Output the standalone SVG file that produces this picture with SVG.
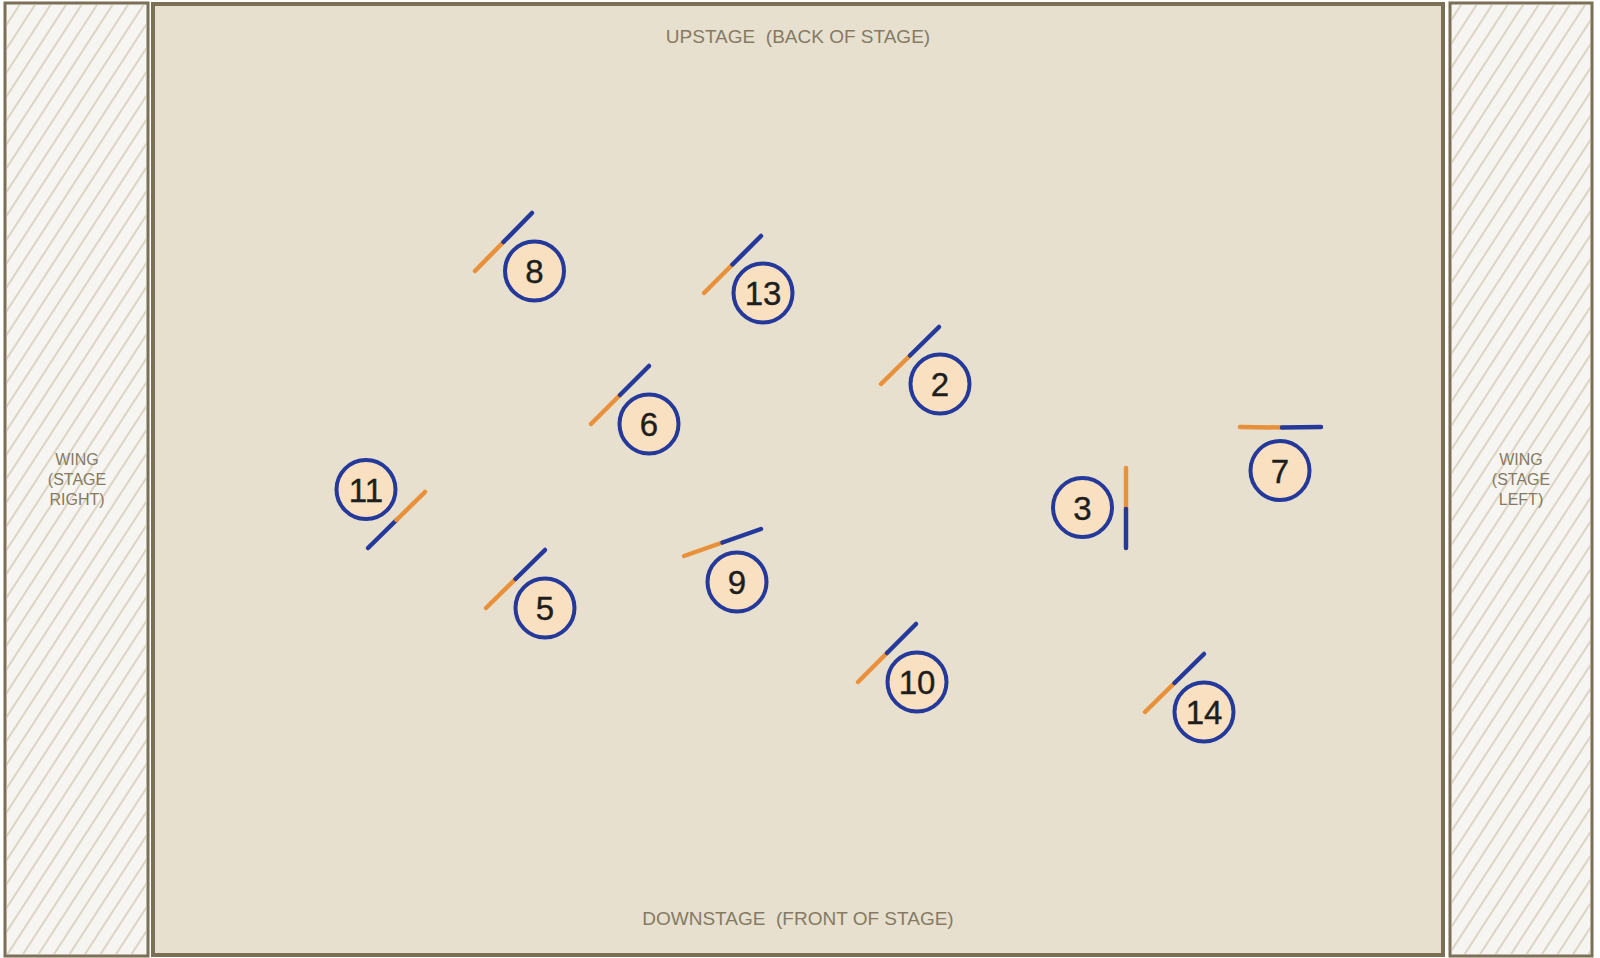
<svg xmlns="http://www.w3.org/2000/svg" width="1600" height="958" viewBox="0 0 1600 958">
<defs>
<pattern id="hatch" width="13" height="13" patternUnits="userSpaceOnUse" patternTransform="rotate(33)">
<line x1="6" y1="-2" x2="6" y2="15" stroke="#d9d0bf" stroke-width="1.8"/>
</pattern>
</defs>
<style>
.wing{fill:#f6f5f1;stroke:#7b6f56;stroke-width:3}
.stage{fill:#e7e0cf;stroke:#7b6f56;stroke-width:4}
.lbl{font-family:"Liberation Sans",Arial,sans-serif;fill:#857a63;text-anchor:middle}
.wl{font-size:16px}
.sl{font-size:19px}
.perf circle{fill:#f8e0c0;stroke:#24399a;stroke-width:4}
.perf text{font-family:"Liberation Sans",Arial,sans-serif;font-size:33px;fill:#1e1e1e;text-anchor:middle;stroke:#1e1e1e;stroke-width:0.4}
.o{stroke:#e8913a;stroke-width:4.5;stroke-linecap:round;fill:none}
.b{stroke:#24399a;stroke-width:4.5;stroke-linecap:round;fill:none}
</style>
<rect width="1600" height="958" fill="#ffffff"/>
<g id="wing-right">
<rect class="wing" x="5" y="3" width="143" height="953"/>
<rect x="7" y="5" width="139" height="949" fill="url(#hatch)"/>
<text class="lbl wl" x="77" y="465">WING</text>
<text class="lbl wl" x="77" y="485">(STAGE</text>
<text class="lbl wl" x="77" y="505">RIGHT)</text>
</g>
<g id="wing-left">
<rect class="wing" x="1450" y="3" width="142" height="953"/>
<rect x="1452" y="5" width="138" height="949" fill="url(#hatch)"/>
<text class="lbl wl" x="1521" y="465">WING</text>
<text class="lbl wl" x="1521" y="485">(STAGE</text>
<text class="lbl wl" x="1521" y="505">LEFT)</text>
</g>
<g id="stage">
<rect class="stage" x="153" y="4" width="1290" height="951"/>
<text class="lbl sl" x="798" y="43" xml:space="preserve">UPSTAGE  (BACK OF STAGE)</text>
<text class="lbl sl" x="798" y="925" xml:space="preserve">DOWNSTAGE  (FRONT OF STAGE)</text>
</g>
<g id="facings">
<path class="o" d="M475 271 L503.5 242"/><path class="b" d="M503.5 242 L532 213"/>
<path class="o" d="M704 293 L732.5 264.5"/><path class="b" d="M732.5 264.5 L761 236"/>
<path class="o" d="M881 384 L910 355.5"/><path class="b" d="M910 355.5 L939 327"/>
<path class="o" d="M591 424 L620 395"/><path class="b" d="M620 395 L649 366"/>
<path class="b" d="M368 548 L396.5 520"/><path class="o" d="M396.5 520 L425 492"/>
<path class="o" d="M486 608 L515.5 579"/><path class="b" d="M515.5 579 L545 550"/>
<path class="o" d="M684 556 L722.5 542.5"/><path class="b" d="M722.5 542.5 L761 529"/>
<path class="o" d="M858 682 L887 653"/><path class="b" d="M887 653 L916 624"/>
<path class="o" d="M1145 712 L1174.5 683"/><path class="b" d="M1174.5 683 L1204 654"/>
<path class="o" d="M1126 468 L1126 509"/><path class="b" d="M1126 509 L1126 548"/>
<path class="o" d="M1240 427 L1282 427.5"/><path class="b" d="M1282 427.5 L1321 427"/>
</g>
<g id="p8" class="perf"><circle cx="534.5" cy="271" r="29.5"/><text x="534.5" y="283">8</text></g>
<g id="p13" class="perf"><circle cx="763" cy="293" r="29.5"/><text x="763" y="305">13</text></g>
<g id="p2" class="perf"><circle cx="940" cy="384" r="29.5"/><text x="940" y="396">2</text></g>
<g id="p6" class="perf"><circle cx="649" cy="424" r="29.5"/><text x="649" y="436">6</text></g>
<g id="p11" class="perf"><circle cx="366" cy="489.5" r="29.5"/><text x="366" y="501.5">11</text></g>
<g id="p5" class="perf"><circle cx="545" cy="608" r="29.5"/><text x="545" y="620">5</text></g>
<g id="p9" class="perf"><circle cx="737" cy="582" r="29.5"/><text x="737" y="594">9</text></g>
<g id="p10" class="perf"><circle cx="917" cy="682" r="29.5"/><text x="917" y="694">10</text></g>
<g id="p14" class="perf"><circle cx="1204" cy="712" r="29.5"/><text x="1204" y="724">14</text></g>
<g id="p3" class="perf"><circle cx="1082.5" cy="507.5" r="29.5"/><text x="1082.5" y="519.5">3</text></g>
<g id="p7" class="perf"><circle cx="1280" cy="470.5" r="29.5"/><text x="1280" y="482.5">7</text></g>
</svg>
